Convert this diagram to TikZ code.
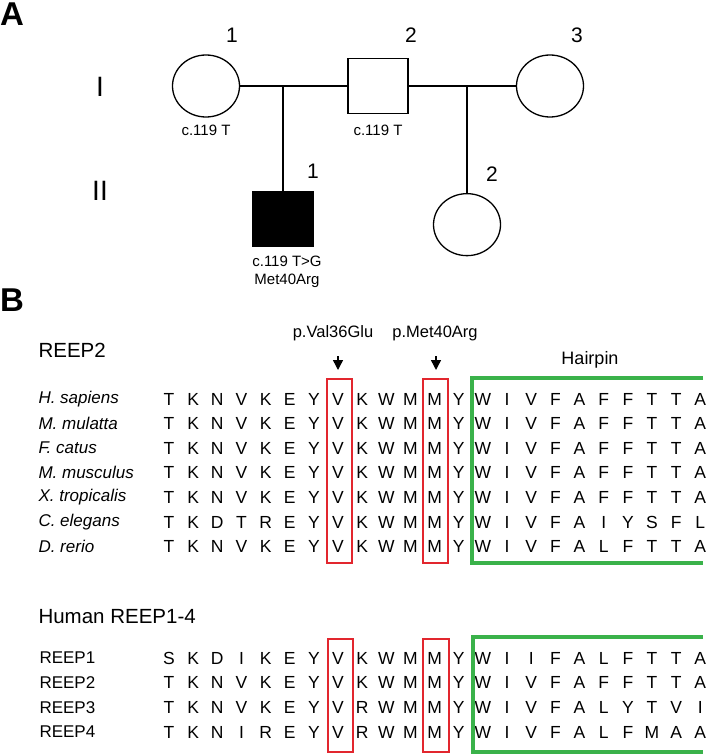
\documentclass[tikz,border=0pt]{standalone}
\usepackage{fontspec}
\setmainfont{Liberation Sans}
\usetikzlibrary{positioning,shapes.geometric,arrows.meta}
\definecolor{boxred}{RGB}{226,38,46}
\definecolor{hairgreen}{RGB}{58,178,74}
\tikzset{
  panel/.style={font=\bfseries\fontsize{33}{33}\selectfont},
  gen/.style={font=\fontsize{28}{28}\selectfont},
  num/.style={font=\fontsize{21}{21}\selectfont},
  geno/.style={font=\fontsize{15}{18}\selectfont,align=center},
  female/.style={draw,ellipse,line width=1.3pt,minimum width=67pt,minimum height=62pt,inner sep=0pt},
  male/.style={draw,rectangle,line width=1.3pt,minimum width=60pt,minimum height=55pt,inner sep=0pt},
  affected/.style={fill=black},
  heading/.style={anchor=west,font=\fontsize{20.5}{22}\selectfont},
  species/.style={anchor=west,font=\itshape\fontsize{17}{19}\selectfont},
  protname/.style={anchor=west,font=\fontsize{17}{19}\selectfont},
  aa/.style={font=\fontsize{17.5}{19}\selectfont,inner sep=0pt},
  mut/.style={font=\fontsize{16.5}{18}\selectfont},
  mutarrow/.style={-{Triangle[length=10pt,width=10pt]},line width=1.4pt,shorten <=12pt},
  conserved/.style={draw=boxred,line width=1.5pt},
  hairline/.style={draw=hairgreen,line width=3.4pt}
}
\begin{document}
\begin{tikzpicture}[x=1pt,y=-1pt,node distance=172pt,on grid]
\useasboundingbox (0,0) rectangle (709,754);

% A: pedigree
\node[panel] (pa) at (12,14) {A};
\node[gen] (g1) at (100,87) {I};
\node[gen] (g2) at (100,191) {II};

\node[female] (i1) at (206,86) {};
\node[male] (i2) [right=of i1] {};
\node[female] (i3) [right=of i2] {};
\coordinate (m1) at (283,86);
\coordinate (m2) at (467,86);
\node[male,affected] (ii1) [below=105pt of m1] {};
\node[female] (ii2) [below=107pt of m2] {};

\draw[line width=1.3pt] (i1) -- (i2) (i2) -- (i3);
\draw[line width=1.3pt] (m1) -- (ii1) (m2) -- (ii2);

\node[num] (n1) [above right=51pt and 26pt of i1] {1};
\node[num] (n2) [above right=51pt and 33pt of i2] {2};
\node[num] (n3) [above right=51pt and 27pt of i3] {3};
\node[num] (n4) [above right=48pt and 30pt of ii1] {1};
\node[num] (n5) [above right=50pt and 25pt of ii2] {2};

\node[geno] (t1) [below=44pt of i1] {c.119 T};
\node[geno] (t2) [below=44pt of i2] {c.119 T};
\node[geno] (t3) [below right=53pt and 4pt of ii1] {c.119 T>G\\Met40Arg};

% B: alignments
\node[panel] (pb) at (12,300) {B};
\node[heading] (h1) at (35,350) {REEP2};
\node[heading] (h2) at (35,617) {Human REEP1-4};

\foreach \sp/\seq [count=\r] in {
  {H. sapiens}/{T,K,N,V,K,E,Y,V,K,W,M,M,Y,W,I,V,F,A,F,F,T,T,A},
  {M. mulatta}/{T,K,N,V,K,E,Y,V,K,W,M,M,Y,W,I,V,F,A,F,F,T,T,A},
  {F. catus}/{T,K,N,V,K,E,Y,V,K,W,M,M,Y,W,I,V,F,A,F,F,T,T,A},
  {M. musculus}/{T,K,N,V,K,E,Y,V,K,W,M,M,Y,W,I,V,F,A,F,F,T,T,A},
  {X. tropicalis}/{T,K,N,V,K,E,Y,V,K,W,M,M,Y,W,I,V,F,A,F,F,T,T,A},
  {C. elegans}/{T,K,D,T,R,E,Y,V,K,W,M,M,Y,W,I,V,F,A,I,Y,S,F,L},
  {D. rerio}/{T,K,N,V,K,E,Y,V,K,W,M,M,Y,W,I,V,F,A,L,F,T,T,A}}
{
  \node[species] (sp\r) at (35,{399+(\r-1)*24.6}) {\sp};
  \foreach \a [count=\c] in \seq
    \node[aa] (s\r-\c) at ({169+(\c-1)*24.15},{399+(\r-1)*24.6}) {\a};
}

\foreach \sp/\seq [count=\r] in {
  {REEP1}/{S,K,D,I,K,E,Y,V,K,W,M,M,Y,W,I,I,F,A,L,F,T,T,A},
  {REEP2}/{T,K,N,V,K,E,Y,V,K,W,M,M,Y,W,I,V,F,A,F,F,T,T,A},
  {REEP3}/{T,K,N,V,K,E,Y,V,R,W,M,M,Y,W,I,V,F,A,L,Y,T,V,I},
  {REEP4}/{T,K,N,I,R,E,Y,V,R,W,M,M,Y,W,I,V,F,A,L,F,M,A,A}}
{
  \node[protname] (hp\r) at (36,{658+(\r-1)*24.7}) {\sp};
  \foreach \a [count=\c] in \seq
    \node[aa] (p\r-\c) at ({169+(\c-1)*24.15},{658+(\r-1)*24.7}) {\a};
}

% boxes round the mutated residues
\draw[conserved] (327,379) rectangle (352,563);
\draw[conserved] (423,379) rectangle (448,563);
\draw[conserved] (328,639) rectangle (353,752);
\draw[conserved] (423,639) rectangle (449,752);

% hairpin brackets
\draw[hairline] (703,378) -- (472,378) -- (472,563) -- (703,563);
\draw[hairline] (703,637) -- (473,637) -- (473,752) -- (703,752);
\node[mut,font=\fontsize{18}{20}\selectfont] (hp) at (590,360) {Hairpin};

% mutation arrows
\node[mut] (v36) at (333,333) {p.Val36Glu};
\node[mut] (m40) at (435,333) {p.Met40Arg};
\coordinate (v36tip) at (338,370);
\coordinate (m40tip) at (436,370);
\draw[mutarrow] (v36.south -| v36tip) -- (v36tip);
\draw[mutarrow] (m40.south -| m40tip) -- (m40tip);
\end{tikzpicture}
\end{document}
